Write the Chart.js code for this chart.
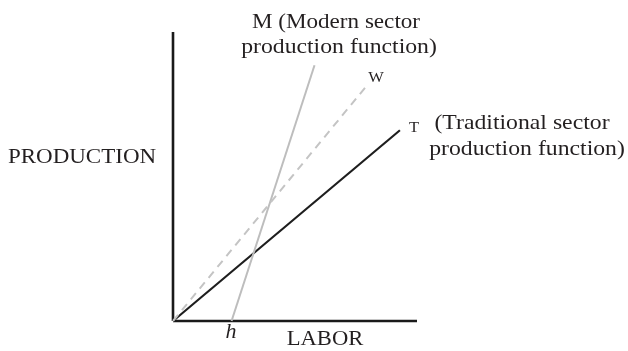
<!DOCTYPE html>
<html>
<head>
<meta charset="utf-8">
<script src="https://cdn.jsdelivr.net/npm/chart.js@4/dist/chart.umd.min.js"></script>
<style>
  html, body { margin: 0; padding: 0; background: #fff; }
  canvas { display: block; }
</style>
</head>
<body>
<canvas id="chart" width="628" height="351"></canvas>
<script>
// labor on x, production on y (0..100 units on both)
var traditionalX = [0, 93];
var traditionalY = [0, 66];
var wageX = [0, 79];
var wageY = [0, 81];
var modernX = [24, 58];
var modernY = [0, 88.5];
var axisLen = 100;

function pts(xs, ys){
  var out = [];
  for(var i = 0; i < xs.length; i++){
    out.push({x: xs[i], y: ys[i]});
  }
  return out;
}

var textColor = '#231f20';
var serif = '"Liberation Serif", "DejaVu Serif", serif';

// text annotations, pixel positions (center of text); sx = horizontal stretch (book face is wider)
var notes = [
  {text: 'M (Modern sector', x: 336, y: 22, size: 21, sx: 1.1},
  {text: 'production function)', x: 339, y: 47, size: 21, sx: 1.13},
  {text: 'W', x: 376, y: 78, size: 15, sx: 1.1},
  {text: 'T', x: 414, y: 128, size: 15, sx: 1.1},
  {text: '(Traditional sector', x: 522, y: 123, size: 21, sx: 1.13},
  {text: 'production function)', x: 527, y: 149, size: 21, sx: 1.13},
  {text: 'PRODUCTION', x: 82, y: 158, size: 20, sx: 1.15},
  {text: 'LABOR', x: 325, y: 340, size: 20, sx: 1.13},
  {text: 'h', x: 231, y: 333, size: 20, sx: 1.1, italic: true}
];

var notesPlugin = {
  id: 'notes',
  afterDraw: function(chart){
    var ctx = chart.ctx;
    notes.forEach(function(n){
      ctx.save();
      ctx.fillStyle = textColor;
      ctx.textAlign = 'center';
      ctx.textBaseline = 'middle';
      ctx.font = (n.italic ? 'italic ' : '') + n.size + 'px ' + serif;
      ctx.translate(n.x, n.y);
      ctx.scale(n.sx, 1);
      ctx.fillText(n.text, 0, 0);
      ctx.restore();
    });
  }
};

var lineDefaults = {showLine: true, pointRadius: 0, pointHoverRadius: 0, fill: false, clip: false, tension: 0};

new Chart(document.getElementById('chart'), {
  type: 'scatter',
  data: {
    datasets: [
      Object.assign({label: 'W', data: pts(wageX, wageY), borderColor: '#c4c4c4', borderWidth: 2, borderDash: [8, 6]}, lineDefaults),
      Object.assign({label: 'M', data: pts(modernX, modernY), borderColor: '#bdbdbd', borderWidth: 2}, lineDefaults),
      Object.assign({label: 'T', data: pts(traditionalX, traditionalY), borderColor: '#1e1e1e', borderWidth: 2.2}, lineDefaults),
      Object.assign({label: 'y axis', data: pts([0, 0], [0, axisLen]), borderColor: '#1a1a1a', borderWidth: 2.6}, lineDefaults),
      Object.assign({label: 'x axis', data: pts([0, axisLen], [0, 0]), borderColor: '#1a1a1a', borderWidth: 2.6}, lineDefaults)
    ]
  },
  options: {
    responsive: false,
    animation: false,
    layout: {padding: {left: 173, right: 211, top: 32, bottom: 30}},
    scales: {
      x: {type: 'linear', min: 0, max: axisLen, display: false},
      y: {type: 'linear', min: 0, max: axisLen, display: false}
    },
    plugins: {
      legend: {display: false},
      tooltip: {enabled: false}
    }
  },
  plugins: [notesPlugin]
});
</script>
</body>
</html>
